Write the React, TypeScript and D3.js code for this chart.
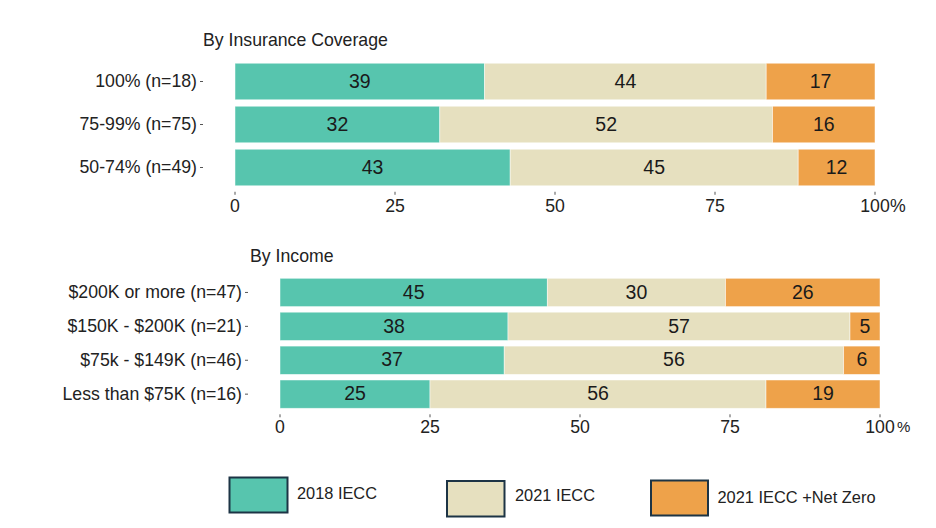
import React from "react";
import * as d3 from "d3";

const coverageCategories = ["100% (n=18)", "75-99% (n=75)", "50-74% (n=49)"];
const coverage2018 = [39, 32, 43];
const coverage2021 = [44, 52, 45];
const coverageNetZero = [17, 16, 12];

const incomeCategories = [
  "$200K or more (n=47)",
  "$150K - $200K (n=21)",
  "$75k - $149K (n=46)",
  "Less than $75K (n=16)",
];
const income2018 = [45, 38, 37, 25];
const income2021 = [30, 57, 56, 56];
const incomeNetZero = [26, 5, 6, 19];

const tickValues = [0, 25, 50, 75, 100];
const seriesNames = ["2018 IECC", "2021 IECC", "2021 IECC +Net Zero"];
const colors = ["#57C5AE", "#E6E0BF", "#EEA24A"];

const FONT = "'Liberation Sans', Arial, sans-serif";

type PanelProps = {
  title: string;
  titleX: number;
  titleY: number;
  categories: string[];
  series: number[][];
  x0: number;
  x1: number;
  y0: number;
  y1: number;
  padInner: number;
  padOuter: number;
  tickLabelY: number;
  lastTickSpace: boolean;
};

function Panel(p: PanelProps) {
  const x = d3.scaleLinear().domain([0, 100]).range([p.x0, p.x1]);
  const y = d3
    .scaleBand<string>()
    .domain(p.categories)
    .range([p.y0, p.y1])
    .paddingInner(p.padInner)
    .paddingOuter(p.padOuter);
  const bw = y.bandwidth();
  const axisTop = (y(p.categories[p.categories.length - 1]) as number) + bw;
  return (
    <g>
      <text x={p.titleX} y={p.titleY} fontSize={17.7} fill="#222" fontFamily={FONT} dominantBaseline="middle">
        {p.title}
      </text>
      {p.categories.map((c, i) => {
        const vals = p.series.map((s) => s[i]);
        const total = d3.sum(vals);
        let cum = 0;
        const yy = y(c) as number;
        return (
          <g key={c}>
            {vals.map((v, j) => {
              const a = (cum / total) * 100;
              cum += v;
              const b = (cum / total) * 100;
              return (
                <g key={j}>
                  <rect
                    x={x(a)}
                    y={yy}
                    width={x(b) - x(a)}
                    height={bw}
                    fill={colors[j]}
                    stroke="#ffffff"
                    strokeOpacity={0.6}
                    strokeWidth={0.8}
                  />
                  <text
                    x={(x(a) + x(b)) / 2}
                    y={yy + bw / 2 + 1}
                    textAnchor="middle"
                    dominantBaseline="middle"
                    fontSize={19.5}
                    fill="#1a1a1a"
                    fontFamily={FONT}
                  >
                    {v}
                  </text>
                </g>
              );
            })}
            <line x1={p.x0 - 35} x2={p.x0 - 32} y1={yy + bw / 2} y2={yy + bw / 2} stroke="#555" strokeWidth={1} />
            <text
              x={p.x0 - 38}
              y={yy + bw / 2 + 1}
              textAnchor="end"
              dominantBaseline="middle"
              fontSize={17.7}
              fill="#222"
              fontFamily={FONT}
            >
              {c}
            </text>
          </g>
        );
      })}
      {tickValues.map((t) => (
        <g key={t}>
          <line x1={x(t)} x2={x(t)} y1={axisTop + 6} y2={axisTop + 9} stroke="#555" strokeWidth={1} />
          <text
            x={x(t)}
            y={p.tickLabelY}
            textAnchor="middle"
            dominantBaseline="middle"
            fontSize={17.7}
            fill="#222"
            fontFamily={FONT}
          >
            {t}
          </text>
          {t === 100 && (
            <text
              x={x(t) + 15 + (p.lastTickSpace ? 2 : 0)}
              y={p.tickLabelY}
              textAnchor="start"
              dominantBaseline="middle"
              fontSize={p.lastTickSpace ? 15 : 17.7}
              fill="#222"
              fontFamily={FONT}
            >
              %
            </text>
          )}
        </g>
      ))}
    </g>
  );
}

const legendBoxes = [
  { x: 229.5, y: 477.5, w: 58, h: 35, tx: 297, tw: 80, ty: 495 },
  { x: 447, y: 481, w: 57.5, h: 35.5, tx: 515, tw: 80, ty: 497 },
  { x: 651, y: 480.5, w: 57, h: 35, tx: 717.5, tw: 158, ty: 499 },
];

export default function App() {
  return (
    <svg width={936} height={528} style={{ display: "block", position: "absolute", left: 0, top: 0 }}>
      <rect x={0} y={0} width={936} height={528} fill="#ffffff" />
      <Panel
        title="By Insurance Coverage"
        titleX={203}
        titleY={41}
        categories={coverageCategories}
        series={[coverage2018, coverage2021, coverageNetZero]}
        x0={235}
        x1={875}
        y0={60}
        y1={189}
        padInner={0.15}
        padOuter={0.075}
        tickLabelY={207}
        lastTickSpace={false}
      />
      <Panel
        title="By Income"
        titleX={250}
        titleY={257}
        categories={incomeCategories}
        series={[income2018, income2021, incomeNetZero]}
        x0={280}
        x1={880}
        y0={275.5}
        y1={411.1}
        padInner={0.165}
        padOuter={0.0825}
        tickLabelY={428}
        lastTickSpace={true}
      />
      {seriesNames.map((s, i) => {
        const b = legendBoxes[i];
        return (
          <g key={s}>
            <rect x={b.x} y={b.y} width={b.w} height={b.h} fill={colors[i]} stroke="#1D3445" strokeWidth={2} />
            <text
              x={b.tx}
              y={b.ty}
              textLength={b.tw}
              lengthAdjust="spacingAndGlyphs"
              dominantBaseline="middle"
              fontSize={17}
              fill="#222"
              fontFamily={FONT}
            >
              {s}
            </text>
          </g>
        );
      })}
    </svg>
  );
}
